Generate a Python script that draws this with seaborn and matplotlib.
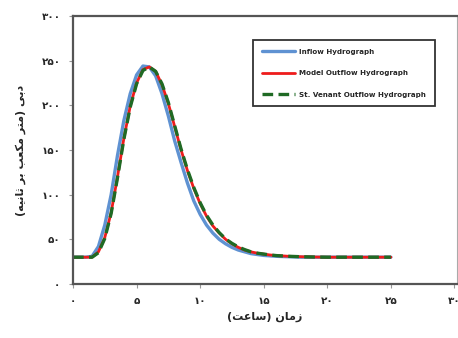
import matplotlib
matplotlib.use("Agg")
import matplotlib.pyplot as plt
import seaborn as sns

# time axis (hours)
hours = [0, 0.5, 1, 1.5, 2, 2.5, 3, 3.5, 4, 4.5, 5, 5.5, 6, 6.5, 7, 7.5, 8, 8.5,
         9, 9.5, 10, 10.5, 11, 11.5, 12, 12.5, 13, 13.5, 14, 14.5, 15, 15.5, 16,
         17, 18, 19, 20, 21, 22, 23, 24, 25]

inflow = [30, 30, 30, 31, 42, 66, 100, 144, 183, 213, 234, 244, 243, 233, 213, 188, 160, 136,
          113, 93, 78, 66, 57, 50, 45, 41, 38, 36, 34, 33, 32, 31.5, 31,
          30.5, 30, 30, 30, 30, 30, 30, 30, 30]

model_out = [30, 30, 30, 30, 36, 52, 80, 120, 163, 199, 225, 240, 243, 238, 223, 202, 176, 150,
             127, 107, 90, 76, 65, 57, 50, 45, 41, 38, 36, 34.5, 33.5, 32.5, 31.8,
             31, 30.5, 30.2, 30, 30, 30, 30, 30, 30]

venant_out = [30, 30, 30, 30, 35, 51, 79, 119, 162, 198, 224, 239, 243, 238, 224, 203, 177, 151,
              128, 108, 91, 77, 66, 57.5, 50.5, 45.5, 41.5, 38.5, 36, 34.5, 33.5, 32.5, 31.8,
              31, 30.5, 30.2, 30, 30, 30, 30, 30, 30]

labels = ["Inflow Hydrograph", "Model Outflow Hydrograph", "St. Venant Outflow Hydrograph"]

x_ticks = [0, 5, 10, 15, 20, 25, 30]
x_ticklabels = ["۰", "۵", "۱۰", "۱۵", "۲۰", "۲۵", "۳۰"]
y_ticks = [0, 50, 100, 150, 200, 250, 300]
y_ticklabels = ["۰", "۵۰", "۱۰۰", "۱۵۰", "۲۰۰", "۲۵۰", "۳۰۰"]

# Persian axis titles, pre-shaped (presentation forms, visual order) since matplotlib has no RTL shaping
x_title = "(\ufe96\ufecb\ufe8e\ufeb3) \ufee5\ufe8e\ufee3\ufeaf"   # زمان (ساعت)
y_title = ("(\ufeea\ufbff\ufee7\ufe8e\ufe9b \ufeae\ufe91 \ufe90\ufecc\ufb91\ufee3 "
           "\ufeae\ufe98\ufee3) \ufbfd\ufe91\ufea9")               # دبی (متر مکعب بر ثانیه)

sns.set_style("white")
plt.rcParams["font.family"] = ["DejaVu Sans"]
plt.rcParams["font.weight"] = "bold"

fig = plt.figure(figsize=(4.58, 3.38), dpi=100)
ax = fig.add_axes([73 / 458, 1 - 284 / 338, 384 / 458, 268 / 338])

sns.lineplot(x=hours, y=inflow, ax=ax, color="#5f92d2", lw=2.4, label=labels[0])
sns.lineplot(x=hours, y=model_out, ax=ax, color="#ee1c1c", lw=2.0, label=labels[1])
sns.lineplot(x=hours, y=venant_out, ax=ax, color="#1f6a24", lw=2.4, label=labels[2])
ax.lines[-1].set_dashes([3.2, 1.6])

ax.set_xlim(0, 30.2)
ax.set_ylim(0, 300)
ax.set_xticks(x_ticks)
ax.set_xticklabels(x_ticklabels, fontsize=7.5, fontweight="bold")
ax.set_yticks(y_ticks)
ax.set_yticklabels(y_ticklabels, fontsize=7.5, fontweight="bold")
ax.tick_params(axis="both", length=3, width=0.8, color="#999999", pad=6, direction="out")
ax.tick_params(axis="x", bottom=True)
ax.tick_params(axis="y", left=True)

ax.set_xlabel(x_title, fontsize=8, fontweight="bold", labelpad=4)
ax.set_ylabel(y_title, fontsize=8, fontweight="bold", labelpad=11)

for side in ["left", "bottom", "top"]:
    ax.spines[side].set_color("#555555")
    ax.spines[side].set_linewidth(1.6)
ax.spines["right"].set_color("#aaaaaa")
ax.spines["right"].set_linewidth(0.8)

leg = ax.legend(loc="upper left", bbox_to_anchor=(0.469, 0.91), frameon=True, fancybox=False,
                prop={"size": 5.1, "weight": "bold"}, handlelength=4.7, handletextpad=0.6,
                labelspacing=2.2, borderpad=1.2, borderaxespad=0)
leg.get_frame().set_edgecolor("black")
leg.get_frame().set_linewidth(1.3)

fig.savefig("out.png", dpi=100)
